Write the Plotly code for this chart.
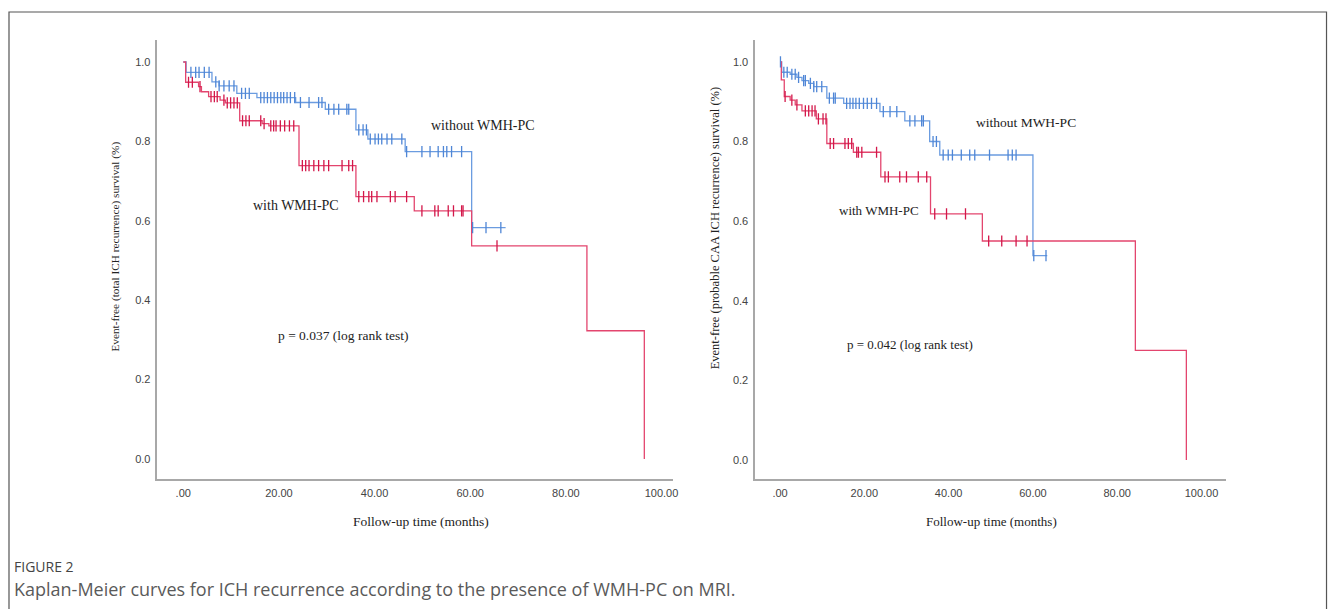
import plotly.graph_objects as go

# ---------------- data: left panel (total ICH recurrence) ----------------
L_blue_t = [0, 0.6, 6.0, 7.5, 11.2, 15.4, 23.5, 29.7, 36.1, 38.6, 46.4, 60.3, 67.4]
L_blue_s = [1.0, 0.974, 0.950, 0.940, 0.921, 0.910, 0.898, 0.881, 0.829, 0.806, 0.774, 0.583, 0.583]
L_blue_ct = [1.6, 2.6, 3.3, 4.4, 5.4, 6.8, 7.5, 8.5, 9.6, 10.6, 12.2, 13.0, 13.8,
             16.2, 16.9, 17.6, 18.3, 19.0, 19.7, 20.4, 21.0, 21.7, 22.4, 23.3,
             24.5, 26.3, 28.3, 29.0, 30.4, 31.5, 32.5, 34.2, 34.6, 36.7, 37.6, 38.3,
             39.1, 40.1, 40.8, 41.5, 42.6, 43.6, 45.7, 46.7, 49.9, 51.6, 53.3, 54.4,
             55.1, 56.1, 58.2, 60.5, 63.3, 66.4]

L_red_t = [0, 0.5, 3.2, 3.8, 5.3, 7.7, 8.8, 11.8, 16.5, 17.9, 24.2, 36.1, 48.3, 60.3, 84.4, 96.4]
L_red_s = [1.0, 0.949, 0.938, 0.925, 0.913, 0.904, 0.897, 0.852, 0.845, 0.839, 0.739, 0.661, 0.625, 0.537, 0.323, 0.0]
L_red_ct = [1.1, 1.9, 3.5, 5.8, 6.5, 7.1, 8.5, 9.2, 9.9, 10.6, 11.3, 12.4, 13.1, 13.8,
            16.2, 16.9, 18.3, 18.9, 19.4, 20.3, 21.2, 22.2, 23.1, 24.9, 25.6, 26.3,
            27.3, 28.3, 29.4, 30.4, 33.2, 34.6, 35.4, 36.7, 37.7, 38.8, 39.4, 40.5,
            43.3, 44.3, 46.7, 49.9, 52.6, 53.3, 55.4, 56.5, 58.2, 58.5, 65.6]

# ---------------- data: right panel (probable CAA ICH recurrence) ----------------
R_blue_t = [0, 0.4, 2.4, 4.0, 5.2, 6.8, 8.0, 11.1, 15.1, 23.7, 29.6, 35.5, 37.9, 60.0, 63.4]
R_blue_s = [1.0, 0.974, 0.969, 0.961, 0.953, 0.946, 0.938, 0.909, 0.896, 0.875, 0.852, 0.800, 0.766, 0.513, 0.513]
R_blue_ct = [0.1, 0.9, 1.7, 2.8, 3.6, 4.4, 5.6, 6.0, 7.2, 8.0, 8.7, 9.9, 11.7, 12.7, 13.1,
             15.8, 16.6, 17.3, 18.0, 18.8, 19.8, 20.7, 21.7, 22.9, 24.5, 26.1, 27.7,
             30.8, 32.0, 33.6, 34.0, 36.3, 37.1, 38.7, 39.9, 40.9, 43.0, 45.0, 46.2,
             49.7, 54.1, 55.1, 56.0, 60.2, 63.1]

R_red_t = [0, 0.3, 1.0, 2.4, 3.6, 5.2, 8.6, 11.1, 17.4, 23.9, 35.7, 48.0, 84.3, 96.4]
R_red_s = [1.0, 0.955, 0.913, 0.904, 0.892, 0.877, 0.857, 0.795, 0.773, 0.711, 0.618, 0.550, 0.275, 0.0]
R_red_ct = [1.2, 2.8, 4.0, 6.0, 6.8, 7.6, 8.3, 9.1, 10.2, 10.9, 11.9, 12.7, 15.4, 16.2,
            17.0, 18.2, 18.6, 19.4, 22.9, 24.9, 25.7, 28.4, 30.0, 32.8, 34.8, 36.7,
            39.5, 44.0, 49.5, 52.6, 56.0, 58.6]

x_tickvals = [0, 20, 40, 60, 80, 100]
x_ticktext = [".00", "20.00", "40.00", "60.00", "80.00", "100.00"]
y_tickvals = [0.0, 0.2, 0.4, 0.6, 0.8, 1.0]
y_ticktext = ["0.0", "0.2", "0.4", "0.6", "0.8", "1.0"]

BLUE = "#6b9ce0"
RED = "#e3456e"
BLUE_M = "#4f86d6"
RED_M = "#d3174a"

# page body margin offset (the browser adds 8px around the plot div)
OFF = 8
W, H = 1336 - OFF, 609 - OFF


def surv_at(ts, ss, t):
    v = ss[0]
    for ti, si in zip(ts, ss):
        if ti <= t:
            v = si
    return v


fig = go.Figure()


def add_panel(xa, ya, bt, bs, bct, rt, rs, rct):
    fig.add_trace(go.Scatter(x=bt, y=bs, mode="lines", line=dict(color=BLUE, width=1.3, shape="hv"),
                             xaxis=xa, yaxis=ya, showlegend=False, hoverinfo="skip"))
    fig.add_trace(go.Scatter(x=rt, y=rs, mode="lines", line=dict(color=RED, width=1.3, shape="hv"),
                             xaxis=xa, yaxis=ya, showlegend=False, hoverinfo="skip"))
    fig.add_trace(go.Scatter(x=bct, y=[surv_at(bt, bs, t) for t in bct], mode="markers",
                             marker=dict(symbol="line-ns-open", size=8, color=BLUE_M,
                                         line=dict(color=BLUE_M, width=1.3)),
                             xaxis=xa, yaxis=ya, showlegend=False, hoverinfo="skip"))
    fig.add_trace(go.Scatter(x=rct, y=[surv_at(rt, rs, t) for t in rct], mode="markers",
                             marker=dict(symbol="line-ns-open", size=8, color=RED_M,
                                         line=dict(color=RED_M, width=1.3)),
                             xaxis=xa, yaxis=ya, showlegend=False, hoverinfo="skip"))


add_panel("x", "y", L_blue_t, L_blue_s, L_blue_ct, L_red_t, L_red_s, L_red_ct)
add_panel("x2", "y2", R_blue_t, R_blue_s, R_blue_ct, R_red_t, R_red_s, R_red_ct)


def px(x):
    return (x - OFF) / W


def py(y):
    return 1 - (y - OFF) / H


tick_font = dict(family="Liberation Sans, Arial, sans-serif", size=11, color="#444")
axcommon = dict(showgrid=False, zeroline=False, showline=True, linecolor="#a8a8a8", linewidth=1.5,
                ticks="", tickfont=tick_font, fixedrange=True)

y_dom = [py(479), py(40)]
fig.update_layout(
    width=W, height=H,
    margin=dict(l=0, r=0, t=0, b=0),
    paper_bgcolor="white", plot_bgcolor="white",
    xaxis=dict(domain=[px(158), px(676)], range=[-5.4, 102.5], tickvals=x_tickvals, ticktext=x_ticktext,
               anchor="y", ticklabelstandoff=3, **axcommon),
    yaxis=dict(domain=y_dom, range=[-0.0504, 1.0554], tickvals=y_tickvals, ticktext=y_ticktext,
               anchor="x", ticklabelstandoff=3, **axcommon),
    xaxis2=dict(domain=[px(758), px(1231)], range=[-5.9, 105.9], tickvals=x_tickvals, ticktext=x_ticktext,
                anchor="y2", ticklabelstandoff=3, **axcommon),
    yaxis2=dict(domain=y_dom, range=[-0.048, 1.055], tickvals=y_tickvals, ticktext=y_ticktext,
                anchor="x2", ticklabelstandoff=3, **axcommon),
)

serif = "Liberation Serif, Times New Roman, serif"
ann = []


def text(x, y, s, size=12, color="#222", family=serif, angle=0, xanchor="center"):
    ann.append(dict(x=px(x), y=py(y), xref="paper", yref="paper", text=s, showarrow=False,
                    font=dict(family=family, size=size, color=color), textangle=angle,
                    xanchor=xanchor, yanchor="middle"))


# left panel texts
text(485, 125, "without WMH-PC", 14)
text(297, 206, "with WMH-PC", 14)
text(345, 335, "p = 0.037 (log rank test)", 13.5)
text(423, 521, "Follow-up time (months)", 13.5)
text(115, 247, "Event-free (total ICH recurrence) survival (%)", 11.3, angle=-90)
# right panel texts
text(1030, 122, "without MWH-PC", 13.5)
text(882, 211, "with WMH-PC", 13)
text(913, 345, "p = 0.042 (log rank test)", 13)
text(995, 521, "Follow-up time (months)", 13)
text(718, 228, "Event-free (probable CAA ICH recurrence) survival (%)", 12.5, angle=-90)
# caption
text(12, 566, "FIGURE 2", 14, color="#444", family="Open Sans, Noto Sans, sans-serif", xanchor="left")
text(12, 589, "Kaplan-Meier curves for ICH recurrence according to the presence of WMH-PC on MRI.", 18,
     color="#5a5a5a", family="Open Sans, Noto Sans, sans-serif", xanchor="left")

fig.update_layout(annotations=ann)

# outer frame (left, top, right edges)
fig.add_shape(type="rect", xref="paper", yref="paper", x0=px(9), x1=px(1331.5), y0=py(640), y1=py(12),
              line=dict(color="#555", width=1.2), fillcolor="rgba(0,0,0,0)", layer="above")

fig.write_html("out.html")
